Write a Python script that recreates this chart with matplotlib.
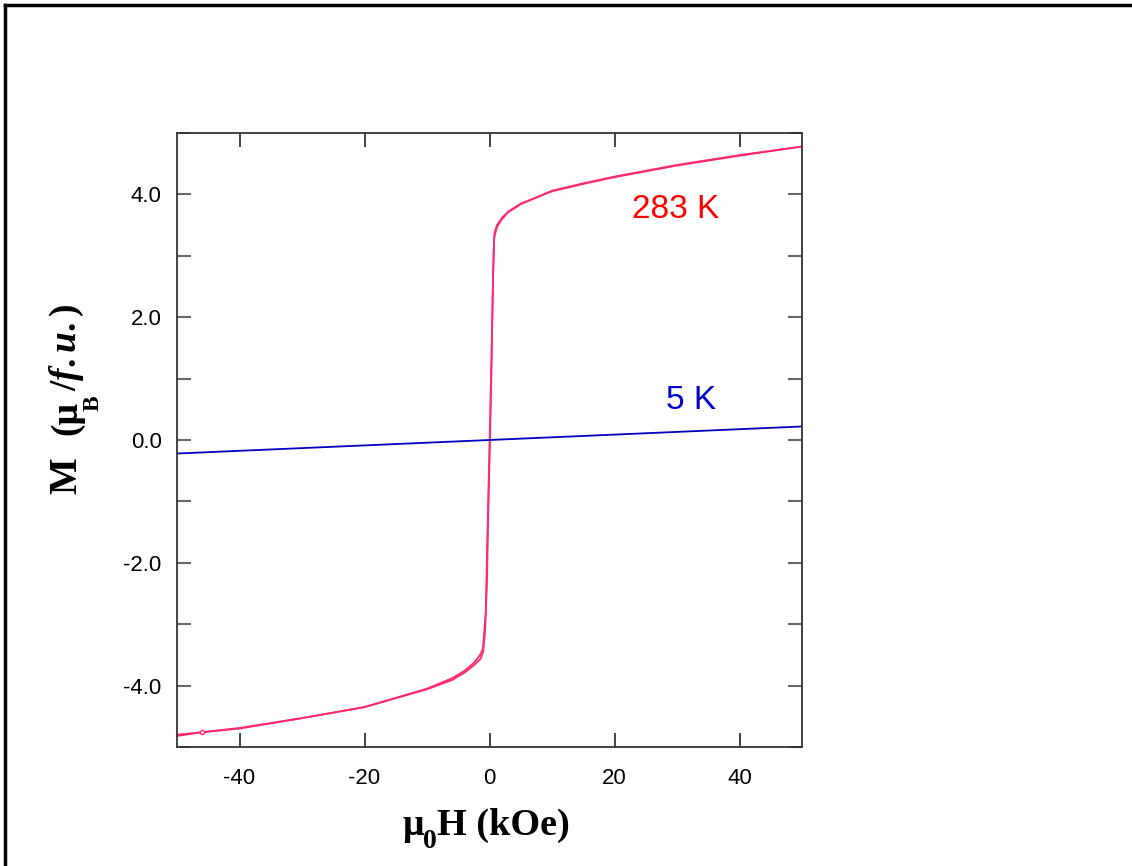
import matplotlib
matplotlib.use("Agg")
import matplotlib.pyplot as plt
from matplotlib.lines import Line2D

# field sweep up (kOe) and magnetization (muB/f.u.) at 283 K
h_up = [-50, -40, -30, -20, -10, -6, -4, -2.5, -1.5, -1.05, -0.6, -0.3, 0.0, 0.3,
        0.5, 0.65, 0.8, 1.2, 2.0, 3.0, 5, 10, 15, 20, 30, 40, 50]
m_up = [-4.80, -4.70, -4.53, -4.35, -4.05, -3.88, -3.76, -3.63, -3.50, -3.40, -2.80,
        -1.40, -0.10, 1.30, 2.30, 3.00, 3.38, 3.50, 3.62, 3.72, 3.85, 4.05, 4.17,
        4.28, 4.47, 4.63, 4.78]

# field sweep down at 283 K
h_down = [50, 40, 30, 20, 15, 10, 5, 3.0, 2.0, 1.2, 0.75, 0.55, 0.35, 0.1, -0.2,
          -0.4, -0.7, -1.0, -1.4, -2.5, -4, -6, -10, -20, -30, -40, -46, -50]
m_down = [4.78, 4.64, 4.48, 4.29, 4.18, 4.06, 3.84, 3.71, 3.60, 3.47, 3.30, 2.60,
          1.30, 0.10, -1.20, -2.30, -3.10, -3.44, -3.56, -3.67, -3.79, -3.91, -4.06,
          -4.35, -4.53, -4.69, -4.76, -4.82]

# 5 K, linear response
h_5k = [-50, 0, 50]
m_5k = [-0.22, 0.0, 0.22]

x_ticks = [-40, -20, 0, 20, 40]
y_ticks = [-4.0, -2.0, 0.0, 2.0, 4.0]
y_minor = [-5, -3, -1, 1, 3, 5]

plt.rcParams["mathtext.fontset"] = "custom"
plt.rcParams["mathtext.rm"] = "Liberation Serif:bold"
plt.rcParams["mathtext.bf"] = "Liberation Serif:bold"
plt.rcParams["mathtext.it"] = "Liberation Serif:bold:italic"

W, H = 1132, 866
fig = plt.figure(figsize=(W / 100, H / 100), dpi=100)
ax = fig.add_axes([177 / W, 1 - 747 / H, 625 / W, 614 / H])

col_283 = "#ff2a6d"
ax.plot(h_up, m_up, color=col_283, lw=1.3)
ax.plot(h_down, m_down, color=col_283, lw=1.3)
ax.plot([h_down[-2]], [m_down[-2]], "o", ms=3, mfc="white", mec=col_283, mew=1)
ax.plot(h_5k, m_5k, color="#0000c0", lw=1.3)

ax.text(29.7, 3.75, "283 K", color="#ff0000", fontsize=24,
        family="Liberation Sans", ha="center", va="center")
ax.text(32.3, 0.65, "5 K", color="#0000cc", fontsize=24,
        family="Liberation Sans", ha="center", va="center")

ax.set_xlim(-50, 50)
ax.set_ylim(-5, 5)
ax.set_xticks(x_ticks)
ax.set_xticklabels([str(v) for v in x_ticks])
ax.set_yticks(y_ticks)
ax.set_yticklabels([f"{v:.1f}" for v in y_ticks])
ax.set_yticks(y_minor, minor=True)

ax.tick_params(axis="x", which="both", direction="in", top=True, length=10,
               width=1.2, color="#222222", pad=15, labelsize=16)
ax.tick_params(axis="y", which="both", direction="in", right=True, length=10,
               width=1.5, color="#666666", pad=11, labelsize=16)
for lab in ax.get_xticklabels() + ax.get_yticklabels():
    lab.set_family("Liberation Sans")
for sp in ax.spines.values():
    sp.set_color("#333333")
    sp.set_linewidth(1.3)


def label_piece(x, y, s, size, rot=0):
    # x, y in pixels from the top-left corner, anchored at the baseline start
    fig.text(x / W, 1 - y / H, s, family="Liberation Serif", fontweight="bold",
             fontsize=size, rotation=rot, rotation_mode="anchor",
             ha="left", va="baseline")


# x label: mu_0 H (kOe) with a large, strongly lowered subscript
label_piece(402, 835, "μ", 27)
label_piece(423, 848, "0", 20)
label_piece(437, 835, "H (kOe)", 27.5)

# y label: M (mu_B / f.u.), rotated
label_piece(76, 494, "M", 28, 90)
label_piece(76, 435, "(μ", 27, 90)
label_piece(99, 411, "B", 17, 90)
label_piece(76, 391, r"/$\mathit{f.u.}$)", 27, 90)

# outer frame (left and top edges visible)
fig.add_artist(Line2D([5 / W, 5 / W], [0, 1 - 5 / H], color="black",
                      lw=2.5, transform=fig.transFigure))
fig.add_artist(Line2D([5 / W, 1], [1 - 5 / H, 1 - 5 / H], color="black",
                      lw=2.5, transform=fig.transFigure))

fig.savefig("out.png", dpi=100)
